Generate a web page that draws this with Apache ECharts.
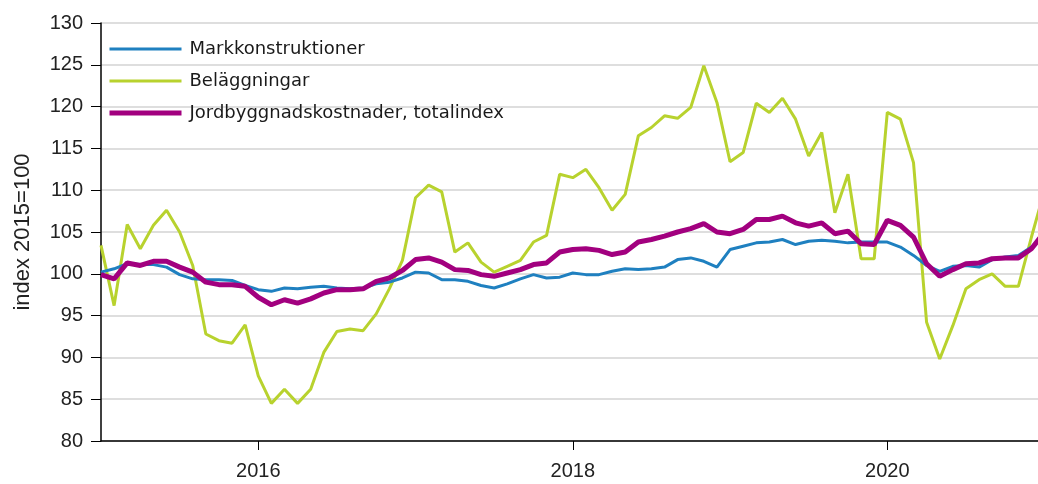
<!DOCTYPE html>
<html>
<head>
<meta charset="utf-8">
<script src="https://cdn.jsdelivr.net/npm/echarts@6/dist/echarts.min.js"></script>
<style>html,body{margin:0;padding:0;background:#fff}#c{width:1038px;height:484px}</style>
</head>
<body>
<div id="c"></div>
<script>
// Months Jan 2015 .. Jan 2021
var months = [];
for (var y = 2015; y <= 2021; y++) {
  for (var m = 1; m <= 12; m++) {
    if (y === 2021 && m > 1) break;
    months.push(y + 'M' + (m < 10 ? '0' + m : m));
  }
}
var yearTicks = ['2016M01', '2018M01', '2020M01'];

var markkonstruktioner = [
  100.2,100.6,101.2,101.1,101.1,100.8,99.9,99.4,99.3,99.3,99.2,98.6,
  98.1,97.9,98.3,98.2,98.4,98.5,98.3,98.2,98.3,98.8,99.0,99.5,
  100.2,100.1,99.3,99.3,99.1,98.6,98.3,98.8,99.4,99.9,99.5,99.6,
  100.1,99.9,99.9,100.3,100.6,100.5,100.6,100.8,101.7,101.9,101.5,100.8,
  102.9,103.3,103.7,103.8,104.1,103.5,103.9,104.0,103.9,103.7,103.8,103.8,
  103.8,103.2,102.2,101.0,100.3,100.9,101.0,100.8,101.7,102.0,102.2,103.2,
  104.6
];
var belaggningar = [
  103.4,96.2,105.9,103.0,105.8,107.6,105.0,101.0,92.8,92.0,91.7,93.9,
  87.8,84.5,86.2,84.5,86.2,90.6,93.1,93.4,93.2,95.2,98.2,101.6,
  109.1,110.6,109.8,102.6,103.7,101.4,100.2,100.9,101.6,103.8,104.6,111.9,
  111.5,112.5,110.3,107.6,109.5,116.5,117.5,118.9,118.6,119.9,124.9,120.5,
  113.4,114.5,120.4,119.3,121.0,118.5,114.1,116.9,107.3,111.9,101.8,101.8,
  119.3,118.5,113.3,94.2,89.8,93.8,98.2,99.3,100.0,98.5,98.5,104.4,
  110.0
];
var totalindex = [
  99.9,99.4,101.3,101.0,101.5,101.5,100.8,100.2,99.0,98.7,98.7,98.5,
  97.2,96.3,96.9,96.5,97.0,97.7,98.1,98.1,98.2,99.1,99.5,100.4,
  101.7,101.9,101.4,100.5,100.4,99.9,99.7,100.1,100.5,101.1,101.3,102.6,
  102.9,103.0,102.8,102.3,102.6,103.8,104.1,104.5,105.0,105.4,106.0,105.0,
  104.8,105.3,106.5,106.5,106.9,106.1,105.7,106.1,104.8,105.1,103.6,103.5,
  106.4,105.8,104.4,101.2,99.7,100.5,101.2,101.3,101.8,101.9,101.9,103.0,
  105.0
];

function pairs(arr) { return arr.map(function (v, i) { return [i, v]; }); }
var tickIdx = yearTicks.map(function (t) { return months.indexOf(t); });

var chart = echarts.init(document.getElementById('c'), null, {renderer: 'canvas'});
chart.setOption({
  animation: false,
  backgroundColor: '#fff',
  grid: {left: 101, right: 0, top: 23, bottom: 43, containLabel: false, outerBoundsMode: 'none'},
  legend: {
    orient: 'vertical',
    left: 102,
    top: 35,
    itemWidth: 72,
    itemHeight: 14,
    itemGap: 14,
    data: ['Markkonstruktioner', 'Beläggningar', 'Jordbyggnadskostnader, totalindex'],
    itemStyle: {opacity: 0},
    lineStyle: {width: 'inherit'},
    textStyle: {fontFamily: 'DejaVu Sans', fontSize: 18, color: '#1a1a1a', lineHeight: 18, padding: [0, 0, 0, 3]}
  },
  xAxis: {
    type: 'value',
    min: 0,
    max: 71.5,
    axisLine: {show: true, lineStyle: {color: '#000', width: 1.5}},
    axisTick: {show: true, length: 9, customValues: tickIdx, lineStyle: {color: '#000', width: 1}},
    axisLabel: {
      customValues: tickIdx,
      margin: 20,
      fontFamily: 'Liberation Sans', fontSize: 20, color: '#222',
      formatter: function (v) { var s = months[Math.round(v)]; return s ? s.slice(0, 4) : ''; }
    },
    splitLine: {show: false}
  },
  yAxis: {
    type: 'value',
    min: 80, max: 130, interval: 5,
    name: 'index 2015=100',
    nameLocation: 'middle',
    nameGap: 67,
    nameTextStyle: {fontFamily: 'Liberation Sans', fontSize: 22, color: '#222'},
    axisLine: {show: true, lineStyle: {color: '#000', width: 1.5}},
    axisTick: {show: true, length: 10, lineStyle: {color: '#000', width: 1}},
    axisLabel: {margin: 18, fontFamily: 'Liberation Sans', fontSize: 20, color: '#222'},
    splitLine: {show: true, lineStyle: {color: '#dedede', width: 2}}
  },
  series: [
    {name: 'Beläggningar', type: 'line', data: pairs(belaggningar), symbol: 'none', z: 2, clip: true,
     lineStyle: {color: '#b8d22e', width: 3}, itemStyle: {color: '#b8d22e'}},
    {name: 'Markkonstruktioner', type: 'line', data: pairs(markkonstruktioner), symbol: 'none', z: 3, clip: true,
     lineStyle: {color: '#1f80c0', width: 3}, itemStyle: {color: '#1f80c0'}},
    {name: 'Jordbyggnadskostnader, totalindex', type: 'line', data: pairs(totalindex), symbol: 'none', z: 4, clip: true,
     lineStyle: {color: '#a2007f', width: 5}, itemStyle: {color: '#a2007f'}}
  ]
});
</script>
</body>
</html>
